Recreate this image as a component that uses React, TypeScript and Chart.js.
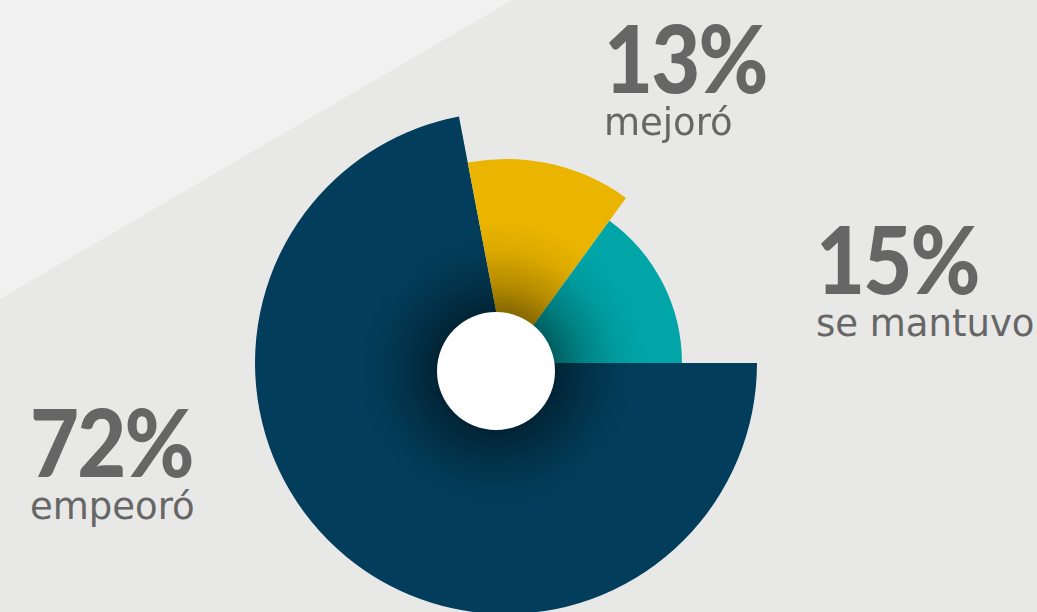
import React, { useEffect, useRef } from 'react';
import Chart from 'chart.js/auto';

const categories = ['empeoró', 'mejoró', 'se mantuvo'];
const shares = [72, 13, 15];
const reach = [100, 81.3, 70.1];
const colors = ['#023e5c', '#eab400', '#00a5a8'];
const shareLabels = ['72%', '13%', '15%'];

const centerShadow = {
  id: 'centerShadow',
  afterDatasetsDraw(chart: any) {
    const scale = chart.scales.r;
    const cx = scale.xCenter - 10;
    const cy = scale.yCenter + 8;
    const ctx = chart.ctx;
    ctx.save();
    const g = ctx.createRadialGradient(cx, cy, 55, cx, cy, 150);
    g.addColorStop(0, 'rgba(0,0,0,0.45)');
    g.addColorStop(0.35, 'rgba(0,0,0,0.22)');
    g.addColorStop(0.7, 'rgba(0,0,0,0.06)');
    g.addColorStop(1, 'rgba(0,0,0,0)');
    ctx.fillStyle = g;
    ctx.beginPath();
    ctx.arc(cx, cy, 150, 0, Math.PI * 2);
    ctx.fill();
    ctx.fillStyle = '#ffffff';
    ctx.beginPath();
    ctx.arc(cx, cy, 59, 0, Math.PI * 2);
    ctx.fill();
    ctx.restore();
  },
};

const labelPos = [
  { left: 30, top: 394 },
  { left: 604, top: 10 },
  { left: 816, top: 211 },
];

export default function App() {
  const ref = useRef<HTMLCanvasElement>(null);
  useEffect(() => {
    document.body.style.margin = '0';
    const chart = new Chart(ref.current!, {
      type: 'polarArea',
      data: {
        labels: categories,
        datasets: [
          {
            data: reach,
            backgroundColor: colors,
            borderWidth: 0,
            angle: (c: any) => shares[c.dataIndex] * 3.6,
          } as any,
        ],
      },
      options: {
        responsive: false,
        animation: false,
        layout: { padding: 0 },
        plugins: { legend: { display: false }, tooltip: { enabled: false } },
        scales: {
          r: { display: false, min: 0, max: 100, startAngle: 90 },
        },
      },
      plugins: [centerShadow],
    });
    return () => chart.destroy();
  }, []);

  return (
    <div
      style={{
        position: 'fixed',
        left: 0,
        top: 0,
        width: 1037,
        height: 612,
        overflow: 'hidden',
        background: '#e8e8e7',
        fontFamily: 'Lato, sans-serif',
        color: '#666666',
      }}
    >
      <div
        style={{
          position: 'absolute',
          left: 0,
          top: 0,
          width: 1037,
          height: 612,
          background: '#f1f1f1',
          clipPath: 'polygon(0 0, 512px 0, 0 299px)',
        }}
      />
      <canvas
        ref={ref}
        width={502}
        height={502}
        style={{ position: 'absolute', left: 255, top: 112, width: 502, height: 502 }}
      />
      {categories.map((c, i) => (
        <div key={c} style={{ position: 'absolute', left: labelPos[i].left, top: labelPos[i].top, whiteSpace: 'nowrap' }}>
          <div
            style={{
              fontSize: 94,
              fontWeight: 900,
              lineHeight: '94px',
              letterSpacing: -2,
              transform: 'scaleX(0.9)',
              transformOrigin: 'left center',
            }}
          >
            {shareLabels[i]}
          </div>
          <div style={{ fontSize: 37, fontWeight: 400, lineHeight: '38px', fontFamily: '"DejaVu Sans", sans-serif' }}>{c}</div>
        </div>
      ))}
    </div>
  );
}
